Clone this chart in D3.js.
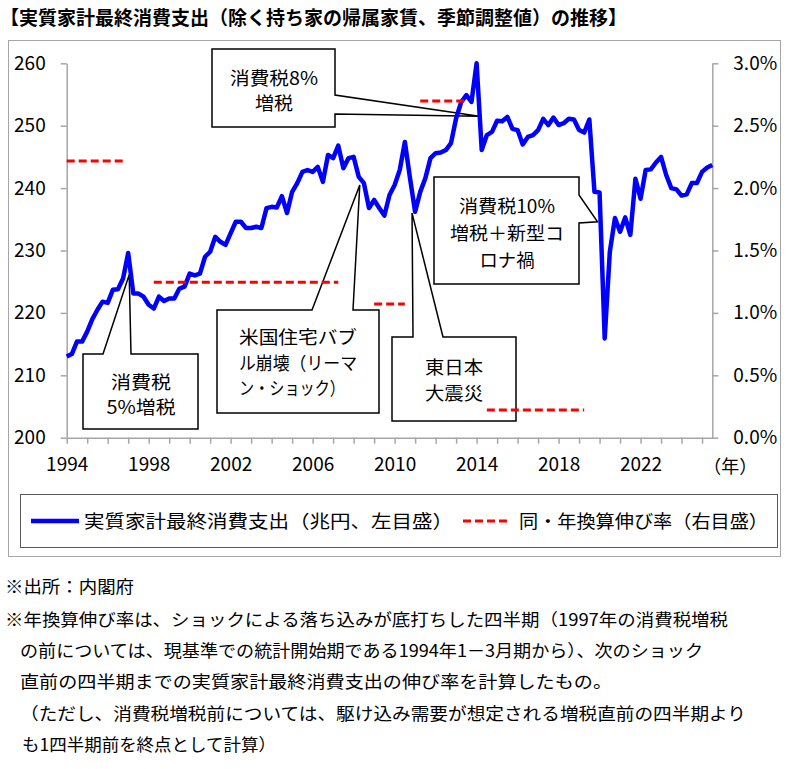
<!DOCTYPE html>
<html>
<head>
<meta charset="utf-8">
<script src="https://cdn.jsdelivr.net/npm/d3@7"></script>
<style>
  body { margin: 0; background: #fff; }
  text { font-family: "Noto Sans CJK JP", "Noto Sans", sans-serif; fill: #000; }
</style>
</head>
<body>
<div id="chart"></div>
<script>
// 実質家計最終消費支出（兆円）, 1994Q1 - 2025Q3, quarterly
const consumption = [
  213.0, 213.4, 215.4, 215.4, 217.0, 219.0, 220.5, 221.8, 221.6, 223.7,
  223.8, 225.5, 229.6, 223.1, 223.1, 222.6, 221.3, 220.7, 222.6, 221.9,
  222.3, 222.3, 223.9, 224.2, 226.3, 226.0, 226.3, 229.0, 229.8, 232.2,
  231.4, 230.9, 232.8, 234.6, 234.6, 233.6, 233.6, 233.8, 233.6, 236.8,
  237.0, 236.9, 238.7, 236.0, 239.4, 240.8, 242.6, 242.9, 242.6, 243.4,
  241.0, 245.3, 244.8, 246.8, 243.2, 244.8, 245.0, 241.8, 240.8, 236.8,
  238.1, 236.8, 235.6, 238.9, 240.5, 242.9, 247.4, 241.6, 236.2, 239.4,
  241.6, 244.8, 245.6, 245.7, 246.1, 247.2, 251.2, 253.8, 254.9, 253.8,
  260.0, 246.1, 248.5, 249.0, 250.8, 250.7, 251.4, 249.5, 249.3, 247.0,
  248.2, 248.5, 249.3, 251.1, 250.1, 251.3, 250.1, 250.4, 251.1, 251.0,
  249.3, 248.9, 251.0, 239.4, 239.3, 215.9, 229.8, 235.2, 233.0, 235.3,
  232.5, 241.5, 238.3, 242.9, 243.0, 244.1, 245.0, 242.1, 240.0, 239.8,
  238.8, 239.0, 240.8, 240.8, 242.6, 243.3, 243.7
];

// 同・年換算伸び率 (segments, quarter index from 1994Q1)
const rateStart = [0, 17, 60, 69, 82];
const rateEnd   = [11, 53, 66, 78, 101];
const rateValue = [0.02217, 0.01245, 0.01071, 0.02698, 0.00222];

const leftTicks = [200, 210, 220, 230, 240, 250, 260];
const rightTicks = [0, 0.005, 0.01, 0.015, 0.02, 0.025, 0.03];
const firstYear = 1994;
const yearLabels = ['1994', '1998', '2002', '2006', '2010', '2014', '2018', '2022'];

const titleText = '【実質家計最終消費支出（除く持ち家の帰属家賃、季節調整値）の推移】';
const legendLabels = ['実質家計最終消費支出（兆円、左目盛）', '同・年換算伸び率（右目盛）'];
const notes = [
  '※出所：内閣府',
  '※年換算伸び率は、ショックによる落ち込みが底打ちした四半期（1997年の消費税増税',
  'の前については、現基準での統計開始期である1994年1－3月期から）、次のショック',
  '直前の四半期までの実質家計最終消費支出の伸び率を計算したもの。',
  '（ただし、消費税増税前については、駆け込み需要が想定される増税直前の四半期より',
  'も1四半期前を終点として計算）'
];

// callouts: text lines and the point (quarter index, value) they point at
const annoLines = [
  ['消費税8%', '増税'],
  ['消費税', '5%増税'],
  ['米国住宅バブ', 'ル崩壊（リーマ', 'ン・ショック）'],
  ['東日本', '大震災'],
  ['消費税10%', '増税＋新型コ', 'ロナ禍']
];
const annoQuarter = [80.5, 12.2, 57.2, 67.4, 103.6];
const annoValue = [251.5, 226.1, 240.5, 236.0, 234.6];

const width = 794, height = 769;
const margin = {top: 63.3, right: 81.7, bottom: 331.3, left: 66.7};
const innerW = width - margin.left - margin.right;
const innerH = height - margin.top - margin.bottom;

const svg = d3.select('#chart').append('svg')
  .attr('width', width)
  .attr('height', height);

// outer frame
svg.append('rect')
  .attr('x', 8.5).attr('y', 40.5)
  .attr('width', 772).attr('height', 516)
  .attr('fill', 'none')
  .attr('stroke', '#a6a6a6');

svg.append('text')
  .attr('x', 0).attr('y', 25)
  .style('font-size', '19px')
  .style('font-weight', 'bold')
  .text(titleText);

const chart = svg.append('g')
  .attr('transform', `translate(${margin.left},${margin.top})`);

const xScale = d3.scaleLinear().domain([0, consumption.length - 1]).range([0, innerW]);
const yLeft = d3.scaleLinear().domain([200, 260]).range([innerH, 0]);
const yRight = d3.scaleLinear().domain([0, 0.03]).range([innerH, 0]);

const yearTicks = d3.range(0, consumption.length, 4);
const labelAt = new Map(yearLabels.map(l => [(+l - firstYear) * 4, l]));

const xAxis = d3.axisBottom(xScale)
  .tickValues(yearTicks)
  .tickFormat(q => labelAt.get(q) || '')
  .tickSize(6).tickSizeOuter(0).tickPadding(14);
const yAxisL = d3.axisLeft(yLeft)
  .tickValues(leftTicks)
  .tickSize(6).tickSizeOuter(0).tickPadding(15);
const yAxisR = d3.axisRight(yRight)
  .tickValues(rightTicks)
  .tickFormat(d3.format('.1%'))
  .tickSize(6).tickSizeOuter(0).tickPadding(15);

function styleAxis(g) {
  g.select('.domain').attr('stroke', '#a6a6a6').attr('stroke-width', 1.5);
  g.selectAll('.tick line').attr('stroke', '#a6a6a6').attr('stroke-width', 1.5);
  g.selectAll('.tick text')
    .style('font-size', '19px')
    .style('font-family', '"Noto Sans CJK JP", sans-serif')
    .attr('fill', '#000');
}

chart.append('g').attr('transform', `translate(0,${innerH})`).call(xAxis).call(styleAxis);
chart.append('g').call(yAxisL).call(styleAxis);
chart.append('g').attr('transform', `translate(${innerW},0)`).call(yAxisR).call(styleAxis);

chart.append('text')
  .attr('x', innerW - 9).attr('y', innerH + 35)
  .style('font-size', '18px')
  .text('（年）');

// callout boxes (pixel layout of the boxes, tip from the scales)
const boxes = [
  {x0: 212, y0: 49, x1: 335, y1: 127, side: 'right', b0: 95, b1: 114, anchor: 'middle', tx: 274, ty: [78, 103], w: [88, 38]},
  {x0: 83, y0: 354, x1: 198, y1: 429, side: 'top', b0: 103, b1: 131, anchor: 'middle', tx: 141, ty: [382, 407], w: [60, 69]},
  {x0: 217, y0: 310, x1: 379, y1: 413, side: 'top', b0: 312, b1: 353, anchor: 'start', tx: 239, ty: [337, 363, 388], w: [118, 118, 106]},
  {x0: 392, y0: 337, x1: 516, y1: 421, side: 'top', b0: 413, b1: 443, anchor: 'middle', tx: 454, ty: [367, 393], w: [58, 58]},
  {x0: 434, y0: 177, x1: 579, y1: 284, side: 'right', b0: 195, b1: 223, anchor: 'middle', tx: 507, ty: [206, 233, 260], w: [96, 114, 55]}
];

const annoG = svg.append('g');
boxes.forEach((b, k) => {
  const px = margin.left + xScale(annoQuarter[k]);
  const py = margin.top + yLeft(annoValue[k]);
  let p = d3.path();
  if (b.side === 'top') {
    p.moveTo(b.x0, b.y0); p.lineTo(b.b0, b.y0); p.lineTo(px, py); p.lineTo(b.b1, b.y0);
    p.lineTo(b.x1, b.y0); p.lineTo(b.x1, b.y1); p.lineTo(b.x0, b.y1); p.closePath();
  } else {
    p.moveTo(b.x0, b.y0); p.lineTo(b.x1, b.y0); p.lineTo(b.x1, b.b0); p.lineTo(px, py);
    p.lineTo(b.x1, b.b1); p.lineTo(b.x1, b.y1); p.lineTo(b.x0, b.y1); p.closePath();
  }
  annoG.append('path')
    .attr('d', p.toString())
    .attr('fill', '#fff')
    .attr('stroke', '#000')
    .attr('stroke-width', 1.5);
  annoLines[k].forEach((line, j) => {
    annoG.append('text')
      .attr('x', b.anchor === 'middle' ? b.tx - b.w[j] / 2 : b.tx)
      .attr('y', b.ty[j] + 6.5)
      .attr('textLength', b.w[j])
      .attr('lengthAdjust', 'spacingAndGlyphs')
      .style('font-size', '18px')
      .text(line);
  });
});

// series drawn above the callouts
const marks = svg.append('g')
  .attr('transform', `translate(${margin.left},${margin.top})`);

const line = d3.line()
  .x((d, i) => xScale(i))
  .y(d => yLeft(d));

marks.append('path')
  .datum(consumption)
  .attr('d', line)
  .attr('fill', 'none')
  .attr('stroke', '#0000ff')
  .attr('stroke-width', 4.5)
  .attr('stroke-linejoin', 'round');

const rateLine = d3.line()
  .x(d => xScale(d.q))
  .y(d => yRight(d.v));

rateValue.forEach((v, k) => {
  marks.append('path')
    .datum([{q: rateStart[k], v: v}, {q: rateEnd[k], v: v}])
    .attr('d', rateLine)
    .attr('fill', 'none')
    .attr('stroke', '#ff0000')
    .attr('stroke-width', 3)
    .attr('stroke-dasharray', '8,4');
});

// legend
const lg = svg.append('g');
lg.append('rect')
  .attr('x', 20.5).attr('y', 494.5)
  .attr('width', 757).attr('height', 53)
  .attr('fill', '#fff')
  .attr('stroke', '#595959');
lg.append('line')
  .attr('x1', 31).attr('x2', 79).attr('y1', 521).attr('y2', 521)
  .attr('stroke', '#0000ff').attr('stroke-width', 4.5);
lg.append('text')
  .attr('x', 84).attr('y', 527.5)
  .attr('textLength', 369).attr('lengthAdjust', 'spacingAndGlyphs')
  .style('font-size', '18px')
  .text(legendLabels[0]);
lg.append('line')
  .attr('x1', 463).attr('x2', 511).attr('y1', 521).attr('y2', 521)
  .attr('stroke', '#ff0000').attr('stroke-width', 3)
  .attr('stroke-dasharray', '8,4');
lg.append('text')
  .attr('x', 519).attr('y', 527.5)
  .attr('textLength', 249).attr('lengthAdjust', 'spacingAndGlyphs')
  .style('font-size', '18px')
  .text(legendLabels[1]);

// footnotes
const noteX = [5, 5, 20, 20, 20, 22];
const noteW = [129, 723, 683, 592, 726, 254];
const noteY = [587, 620, 651, 682, 714, 745];
notes.forEach((t, i) => {
  svg.append('text')
    .attr('x', noteX[i]).attr('y', noteY[i] + 6)
    .attr('textLength', noteW[i]).attr('lengthAdjust', 'spacingAndGlyphs')
    .style('font-size', '17px')
    .text(t);
});
</script>
</body>
</html>
